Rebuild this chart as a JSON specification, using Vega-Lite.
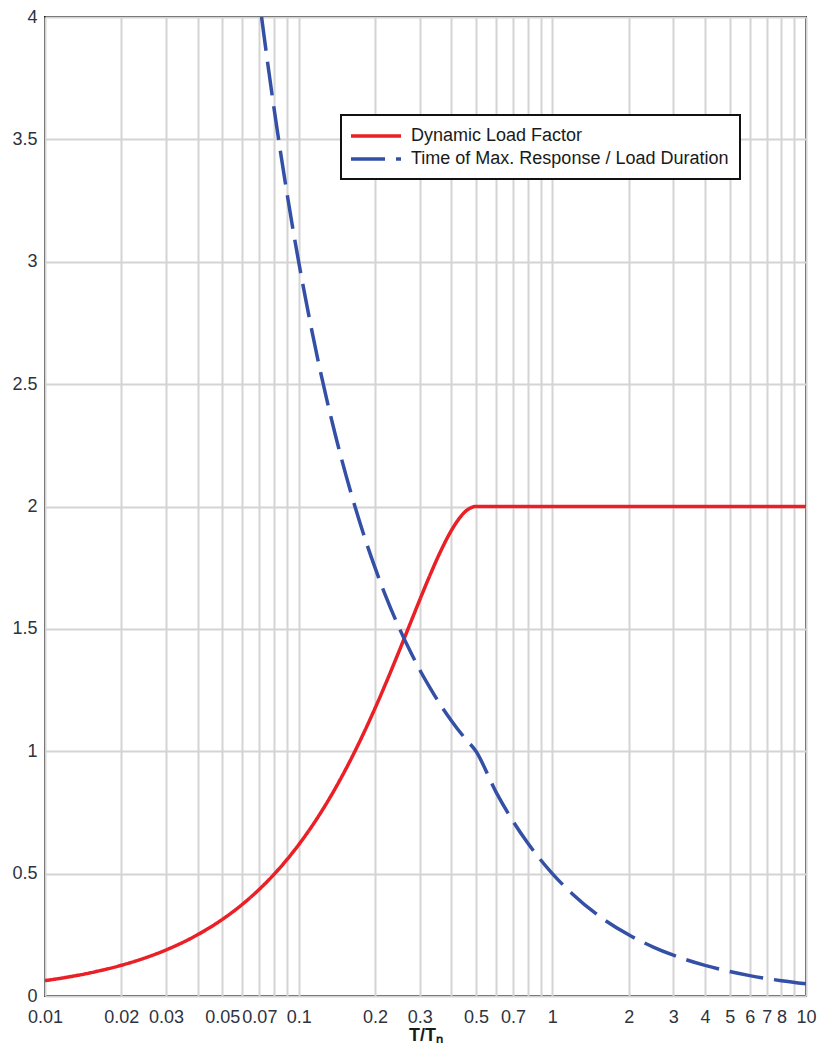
{
  "$schema": "https://vega.github.io/schema/vega-lite/v6.json",
  "width": 761,
  "height": 979,
  "autosize": {"type": "none"},
  "padding": {"left": 45, "top": 17, "right": 12, "bottom": 52},
  "background": "white",
  "config": {
    "font": "Liberation Sans",
    "view": {"stroke": "#1e1e1e", "strokeWidth": 2},
    "axis": {
      "domain": false,
      "ticks": false,
      "grid": true,
      "gridColor": "#d4d4d4",
      "gridWidth": 2,
      "labelColor": "#2e3340",
      "labelFontSize": 18,
      "labelFont": "Liberation Sans"
    },
    "legend": {
      "orient": "none",
      "legendX": 296,
      "legendY": 98,
      "fillColor": "white",
      "strokeColor": "#111111",
      "strokeWidth": 2,
      "padding": 11,
      "rowPadding": 4,
      "symbolType": "M-3.125,0H3.125",
      "symbolSize": 256,
      "symbolOffset": 14,
      "symbolStrokeWidth": 3.5,
      "labelFontSize": 18,
      "labelFont": "Liberation Sans",
      "labelColor": "#1a1a1a",
      "labelOffset": 25,
      "labelLimit": 500,
      "title": null
    }
  },
  "data": {
    "values": [
      {"x": 0.01, "y": 0.0628, "series": "Dynamic Load Factor"},
      {"x": 0.012, "y": 0.0754, "series": "Dynamic Load Factor"},
      {"x": 0.015, "y": 0.0942, "series": "Dynamic Load Factor"},
      {"x": 0.02, "y": 0.1256, "series": "Dynamic Load Factor"},
      {"x": 0.025, "y": 0.1569, "series": "Dynamic Load Factor"},
      {"x": 0.03, "y": 0.1882, "series": "Dynamic Load Factor"},
      {"x": 0.04, "y": 0.2507, "series": "Dynamic Load Factor"},
      {"x": 0.05, "y": 0.3129, "series": "Dynamic Load Factor"},
      {"x": 0.06, "y": 0.3748, "series": "Dynamic Load Factor"},
      {"x": 0.07, "y": 0.4363, "series": "Dynamic Load Factor"},
      {"x": 0.08, "y": 0.4974, "series": "Dynamic Load Factor"},
      {"x": 0.09, "y": 0.558, "series": "Dynamic Load Factor"},
      {"x": 0.1, "y": 0.618, "series": "Dynamic Load Factor"},
      {"x": 0.12, "y": 0.7362, "series": "Dynamic Load Factor"},
      {"x": 0.14, "y": 0.8516, "series": "Dynamic Load Factor"},
      {"x": 0.16, "y": 0.9635, "series": "Dynamic Load Factor"},
      {"x": 0.18, "y": 1.0717, "series": "Dynamic Load Factor"},
      {"x": 0.2, "y": 1.1756, "series": "Dynamic Load Factor"},
      {"x": 0.22, "y": 1.2748, "series": "Dynamic Load Factor"},
      {"x": 0.25, "y": 1.4142, "series": "Dynamic Load Factor"},
      {"x": 0.28, "y": 1.541, "series": "Dynamic Load Factor"},
      {"x": 0.3, "y": 1.618, "series": "Dynamic Load Factor"},
      {"x": 0.33, "y": 1.7215, "series": "Dynamic Load Factor"},
      {"x": 0.36, "y": 1.8097, "series": "Dynamic Load Factor"},
      {"x": 0.4, "y": 1.9021, "series": "Dynamic Load Factor"},
      {"x": 0.43, "y": 1.9518, "series": "Dynamic Load Factor"},
      {"x": 0.45, "y": 1.9754, "series": "Dynamic Load Factor"},
      {"x": 0.47, "y": 1.9911, "series": "Dynamic Load Factor"},
      {"x": 0.5, "y": 2.0, "series": "Dynamic Load Factor"},
      {"x": 1, "y": 2.0, "series": "Dynamic Load Factor"},
      {"x": 10, "y": 2.0, "series": "Dynamic Load Factor"},
      {"x": 0.0714, "y": 4.0, "series": "Time of Max. Response / Load Duration"},
      {"x": 0.075, "y": 3.833, "series": "Time of Max. Response / Load Duration"},
      {"x": 0.08, "y": 3.625, "series": "Time of Max. Response / Load Duration"},
      {"x": 0.09, "y": 3.278, "series": "Time of Max. Response / Load Duration"},
      {"x": 0.1, "y": 3.0, "series": "Time of Max. Response / Load Duration"},
      {"x": 0.11, "y": 2.773, "series": "Time of Max. Response / Load Duration"},
      {"x": 0.12, "y": 2.583, "series": "Time of Max. Response / Load Duration"},
      {"x": 0.14, "y": 2.286, "series": "Time of Max. Response / Load Duration"},
      {"x": 0.16, "y": 2.063, "series": "Time of Max. Response / Load Duration"},
      {"x": 0.18, "y": 1.889, "series": "Time of Max. Response / Load Duration"},
      {"x": 0.2, "y": 1.75, "series": "Time of Max. Response / Load Duration"},
      {"x": 0.22, "y": 1.636, "series": "Time of Max. Response / Load Duration"},
      {"x": 0.25, "y": 1.5, "series": "Time of Max. Response / Load Duration"},
      {"x": 0.28, "y": 1.393, "series": "Time of Max. Response / Load Duration"},
      {"x": 0.3, "y": 1.333, "series": "Time of Max. Response / Load Duration"},
      {"x": 0.33, "y": 1.258, "series": "Time of Max. Response / Load Duration"},
      {"x": 0.36, "y": 1.194, "series": "Time of Max. Response / Load Duration"},
      {"x": 0.4, "y": 1.125, "series": "Time of Max. Response / Load Duration"},
      {"x": 0.45, "y": 1.056, "series": "Time of Max. Response / Load Duration"},
      {"x": 0.5, "y": 1.0, "series": "Time of Max. Response / Load Duration"},
      {"x": 0.6, "y": 0.833, "series": "Time of Max. Response / Load Duration"},
      {"x": 0.7, "y": 0.714, "series": "Time of Max. Response / Load Duration"},
      {"x": 0.8, "y": 0.625, "series": "Time of Max. Response / Load Duration"},
      {"x": 1, "y": 0.5, "series": "Time of Max. Response / Load Duration"},
      {"x": 1.2, "y": 0.417, "series": "Time of Max. Response / Load Duration"},
      {"x": 1.5, "y": 0.333, "series": "Time of Max. Response / Load Duration"},
      {"x": 2, "y": 0.25, "series": "Time of Max. Response / Load Duration"},
      {"x": 2.5, "y": 0.2, "series": "Time of Max. Response / Load Duration"},
      {"x": 3, "y": 0.1667, "series": "Time of Max. Response / Load Duration"},
      {"x": 4, "y": 0.125, "series": "Time of Max. Response / Load Duration"},
      {"x": 5, "y": 0.1, "series": "Time of Max. Response / Load Duration"},
      {"x": 6, "y": 0.0833, "series": "Time of Max. Response / Load Duration"},
      {"x": 7, "y": 0.0714, "series": "Time of Max. Response / Load Duration"},
      {"x": 8, "y": 0.0625, "series": "Time of Max. Response / Load Duration"},
      {"x": 10, "y": 0.05, "series": "Time of Max. Response / Load Duration"}
    ]
  },
  "mark": {"type": "line", "strokeWidth": 3.5, "clip": true, "interpolate": "monotone"},
  "encoding": {
    "x": {
      "field": "x",
      "type": "quantitative",
      "scale": {"type": "log", "domain": [0.01, 10], "nice": false},
      "axis": {
        "values": [0.01, 0.02, 0.03, 0.04, 0.05, 0.06, 0.07, 0.08, 0.09, 0.1, 0.2, 0.3, 0.4, 0.5, 0.6, 0.7, 0.8, 0.9, 1, 2, 3, 4, 5, 6, 7, 8, 9, 10],
        "format": ".2~f",
        "labelExpr": "indexof([0.04, 0.06, 0.08, 0.09, 0.4, 0.6, 0.8, 0.9, 9], datum.value) >= 0 ? '' : datum.label",
        "labelOverlap": false,
        "labelFlush": false,
        "labelPadding": 12,
        "title": "T/Tₙ",
        "titleFontSize": 18,
        "titleFontWeight": "bold",
        "titleColor": "#1a1a1a",
        "titlePadding": 0
      }
    },
    "y": {
      "field": "y",
      "type": "quantitative",
      "scale": {"domain": [0, 4], "nice": false},
      "axis": {
        "values": [0, 0.5, 1, 1.5, 2, 2.5, 3, 3.5, 4],
        "format": ".1~f",
        "labelPadding": 8,
        "title": null
      }
    },
    "color": {
      "field": "series",
      "type": "nominal",
      "scale": {
        "domain": ["Dynamic Load Factor", "Time of Max. Response / Load Duration"],
        "range": ["#ea2027", "#3450a6"]
      }
    },
    "strokeDash": {
      "field": "series",
      "type": "nominal",
      "scale": {
        "domain": ["Dynamic Load Factor", "Time of Max. Response / Load Duration"],
        "range": [[1, 0], [34, 11]]
      }
    }
  }
}
